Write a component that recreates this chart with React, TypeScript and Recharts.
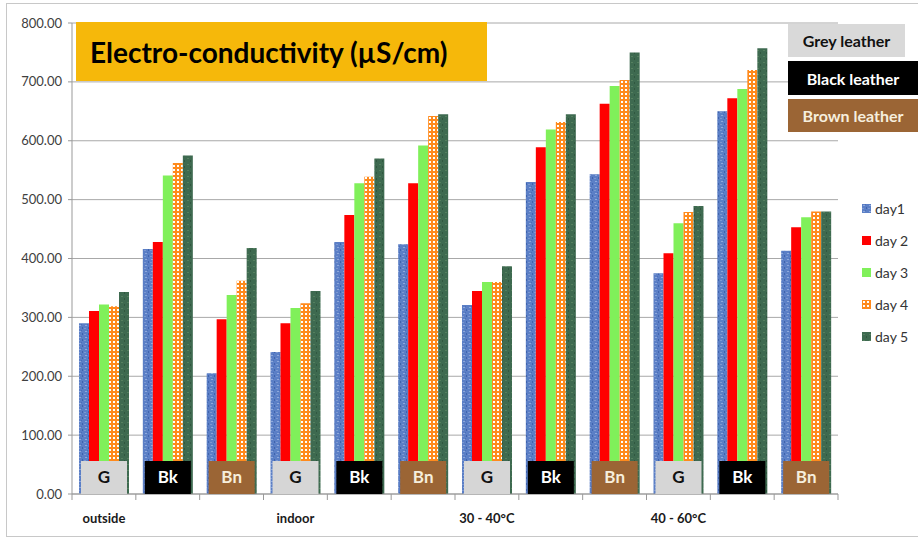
import { Bar, BarChart, CartesianGrid, LabelList, Legend, XAxis, YAxis } from "recharts";

const conditionLabels = ["outside", "", "", "indoor", "", "", "30 - 40°C", "", "", "40 - 60°C", "", ""];
const leatherTags = ["G", "Bk", "Bn", "G", "Bk", "Bn", "G", "Bk", "Bn", "G", "Bk", "Bn"];
const day1 = [290, 416, 205, 241, 428, 424, 321, 530, 543, 375, 650, 413];
const day2 = [311, 428, 297, 290, 474, 528, 345, 589, 663, 409, 672, 453];
const day3 = [322, 541, 338, 316, 528, 592, 360, 619, 693, 460, 688, 470];
const day4 = [319, 562, 362, 324, 539, 642, 360, 632, 703, 479, 720, 480];
const day5 = [343, 575, 418, 345, 570, 645, 387, 645, 750, 489, 757, 480];
const yTicks = [0, 100, 200, 300, 400, 500, 600, 700, 800];

const data = conditionLabels.map((cond, i) => ({
  key: i,
  cond,
  tag: leatherTags[i],
  day1: day1[i],
  day2: day2[i],
  day3: day3[i],
  day4: day4[i],
  day5: day5[i],
}));

const series = [
  { key: "day1", name: "day1", fill: "url(#pat-day1)" },
  { key: "day2", name: "day 2", fill: "#ff0000" },
  { key: "day3", name: "day 3", fill: "#80f05a" },
  { key: "day4", name: "day 4", fill: "url(#pat-day4)" },
  { key: "day5", name: "day 5", fill: "url(#pat-day5)" },
];

const tagStyle: Record<string, { bg: string; color: string }> = {
  G: { bg: "#d6d6d6", color: "#111" },
  Bk: { bg: "#000000", color: "#ffffff" },
  Bn: { bg: "#9b6535", color: "#f6eedd" },
};

const FONT = "Lato, 'Open Sans', sans-serif";

function Patterns() {
  return (
    <svg width={0} height={0} style={{ position: "absolute" }}>
      <defs>
        <pattern id="pat-day1" width={6} height={6} patternUnits="userSpaceOnUse">
          <rect width={6} height={6} fill="#5b7fc6" />
          <rect x={1} y={1} width={2} height={1} fill="#8fa9dc" />
          <rect x={4} y={3} width={1} height={2} fill="#3f63ad" />
          <rect x={0} y={4} width={2} height={1} fill="#7c98d2" />
          <rect x={3} y={0} width={1} height={1} fill="#4a6eb8" />
        </pattern>
        <pattern id="pat-day4" width={4} height={4} patternUnits="userSpaceOnUse">
          <rect width={4} height={4} fill="#ff8a1c" />
          <rect x={1} y={1} width={2} height={2} fill="#ffffff" />
        </pattern>
        <pattern id="pat-day5" width={6} height={6} patternUnits="userSpaceOnUse">
          <rect width={6} height={6} fill="#3e6a50" />
          <rect x={1} y={2} width={2} height={1} fill="#55805f" />
          <rect x={4} y={4} width={1} height={2} fill="#30573f" />
        </pattern>
      </defs>
    </svg>
  );
}

function CondTick(props: any) {
  const { x, y, payload, index } = props;
  const half = payload && payload.offset ? payload.offset : 32;
  const label = conditionLabels[payload.value] ?? "";
  return (
    <g>
      <line x1={x - half} x2={x - half} y1={y} y2={y + 6} stroke="#999" />
      {index === conditionLabels.length - 1 && (
        <line x1={x + half} x2={x + half} y1={y} y2={y + 6} stroke="#999" />
      )}
      <text x={x} y={y + 29} textAnchor="middle" fontSize={13} fontWeight={700} fill="#1a1a1a" fontFamily={FONT}>
        {label}
      </text>
    </g>
  );
}

function TagBox(props: any) {
  const { x, y, width, height, index } = props;
  const tag = leatherTags[index];
  const s = tagStyle[tag];
  const cx = Number(x) - 1.5 * Number(width);
  const bottom = Number(y) + Number(height);
  return (
    <g>
      <rect x={cx - 23} y={bottom - 33} width={46} height={33} fill={s.bg} />
      <text x={cx} y={bottom - 11} textAnchor="middle" fontSize={17} fontWeight={700} fill={s.color} fontFamily={FONT}>
        {tag}
      </text>
    </g>
  );
}

function SeriesLegend() {
  return (
    <div style={{ fontFamily: FONT }}>
      {series.map((s) => (
        <div key={s.key} style={{ display: "flex", alignItems: "center", height: 32 }}>
          <svg width={9} height={9} style={{ marginRight: 4 }}>
            <rect width={9} height={9} fill={s.fill} />
          </svg>
          <span style={{ fontSize: 14, color: "#333" }}>{s.name}</span>
        </div>
      ))}
    </div>
  );
}

export default function App() {
  return (
    <div style={{ position: "absolute", left: 0, top: 0, width: 918, height: 538, background: "#fff", overflow: "hidden" }}>
      <Patterns />
      <div style={{ position: "absolute", left: 6, top: 3, width: 930, height: 532, border: "1px solid #c8c8c8" }} />
      <BarChart
        width={918}
        height={538}
        data={data}
        margin={{ top: 23, right: 80, left: 12, bottom: 14 }}
        barCategoryGap={7}
        barGap={0}
      >
        <CartesianGrid vertical={false} stroke="#a8a8a8" />
        <XAxis
          dataKey="key"
          type="category"
          height={30}
          axisLine={{ stroke: "#999" }}
          tickLine={false}
          tickSize={0}
          tickMargin={0}
          interval={0}
          tick={<CondTick />}
        />
        <YAxis
          width={60}
          domain={[0, 800]}
          ticks={yTicks}
          tickFormatter={(v) => Number(v).toFixed(2)}
          axisLine={{ stroke: "#999" }}
          tickLine={{ stroke: "#999" }}
          tickSize={4}
          tickMargin={6}
          tick={{ fill: "#404040", fontSize: 13, fontFamily: FONT }}
        />
        <Legend
          layout="vertical"
          verticalAlign="middle"
          align="center"
          wrapperStyle={{ left: 862, top: 192, width: 60 }}
          content={<SeriesLegend />}
        />
        {series.map((s, i) => (
          <Bar key={s.key} dataKey={s.key} name={s.name} fill={s.fill} isAnimationActive={false}>
            {i === series.length - 1 && <LabelList dataKey="tag" content={<TagBox />} />}
          </Bar>
        ))}
      </BarChart>
      <div
        style={{
          position: "absolute",
          left: 76,
          top: 22,
          width: 411,
          height: 59,
          background: "#f6b80a",
          fontFamily: FONT,
          fontWeight: 700,
          fontSize: 28,
          color: "#000",
          display: "flex",
          alignItems: "center",
          paddingLeft: 14,
          boxSizing: "border-box",
        }}
      >
        Electro-conductivity (µS/cm)
      </div>
      <div style={{ position: "absolute", left: 788, top: 24, width: 117, height: 33, background: "#d9d9d9", color: "#111", fontFamily: FONT, fontWeight: 700, fontSize: 16, display: "flex", alignItems: "center", justifyContent: "center" }}>
        Grey leather
      </div>
      <div style={{ position: "absolute", left: 788, top: 61, width: 130, height: 34, background: "#000", color: "#fff", fontFamily: FONT, fontWeight: 700, fontSize: 16, display: "flex", alignItems: "center", justifyContent: "center" }}>
        Black leather
      </div>
      <div style={{ position: "absolute", left: 788, top: 99, width: 130, height: 33, background: "#9b6535", color: "#f6eedd", fontFamily: FONT, fontWeight: 700, fontSize: 16, display: "flex", alignItems: "center", justifyContent: "center" }}>
        Brown leather
      </div>
    </div>
  );
}
